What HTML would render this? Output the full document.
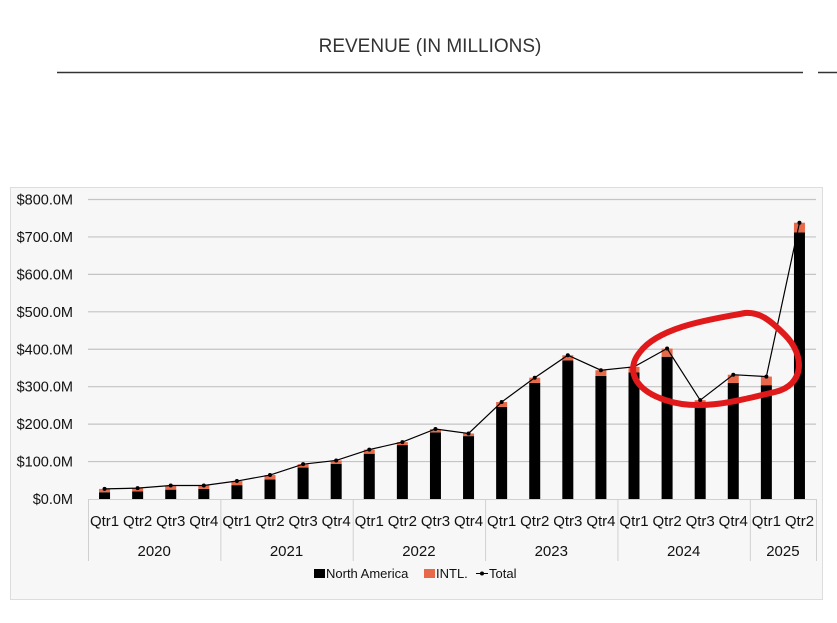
<!DOCTYPE html>
<html><head><meta charset="utf-8"><style>
body{margin:0;background:#fff;width:837px;height:618px;overflow:hidden;font-family:"Liberation Sans",sans-serif}
</style></head><body>
<svg width="837" height="618" viewBox="0 0 837 618">
<text x="430" y="52" text-anchor="middle" font-size="19" fill="#333">REVENUE (IN MILLIONS)</text>
<line x1="57" y1="72.5" x2="803" y2="72.5" stroke="#333" stroke-width="1.5"/>
<line x1="818" y1="72.5" x2="837" y2="72.5" stroke="#333" stroke-width="1.5"/>
<rect x="10.5" y="187.5" width="812" height="412" fill="#f7f7f7" stroke="#ddd"/>
<g id="grid"></g><g id="bars"></g><g id="line"></g><g id="axes"></g>
<g font-size="13" fill="#111">
<rect x="314" y="569" width="11" height="9" fill="#000"/>
<text x="326" y="578">North America</text>
<rect x="424" y="569" width="11" height="9" fill="#e8694a"/>
<text x="436" y="578">INTL.</text>
<line x1="476" y1="573.5" x2="488" y2="573.5" stroke="#000"/>
<circle cx="482" cy="573.5" r="2" fill="#000"/>
<text x="489" y="578">Total</text>
</g>
<path d="M640,352 C660,325 720,318 745,313 C760,312 770,320 785,335 C805,355 805,385 775,392 C740,400 700,412 665,400 C635,390 625,370 640,352 Z" fill="none" stroke="#e0191b" stroke-width="6"/>
</svg>
<script>
const quarters=["Qtr1","Qtr2","Qtr3","Qtr4","Qtr1","Qtr2","Qtr3","Qtr4","Qtr1","Qtr2","Qtr3","Qtr4","Qtr1","Qtr2","Qtr3","Qtr4","Qtr1","Qtr2","Qtr3","Qtr4","Qtr1","Qtr2"];
const years=["2020","2021","2022","2023","2024","2025"];
const yearCounts=[4,4,4,4,4,2];
const northAmerica=[18,20,25,27,37,52,84,94,121,144,178,168,246,310,370,329,338,380,249,310,304,712];
const totals=[27,29,36,36,48,64,93,103,132,152,187,175,259,324,384,344,353,402,264,332,327,738];
const yTicks=[0,100,200,300,400,500,600,700,800];
const NS="http://www.w3.org/2000/svg";
const X0=88,X1=816,Y0=499,YT=199.5,YMAX=800;
const bw=(X1-X0)/quarters.length;
const y=v=>Y0-(v/YMAX)*(Y0-YT);
const xc=i=>X0+bw*(i+0.5);
function mk(tag,attrs,parent,txt){const e=document.createElementNS(NS,tag);for(const k in attrs)e.setAttribute(k,attrs[k]);if(txt!==undefined)e.textContent=txt;document.getElementById(parent).appendChild(e);return e;}
yTicks.forEach(t=>{
 if(t>0){const l=mk("line",{x1:X0,x2:X1,y1:y(t),y2:y(t),stroke:"#c4c4c4","stroke-width":1.2},"grid");
 
 }
 const tx=mk("text",{x:73,y:y(t)+5,"text-anchor":"end","font-size":14.5,fill:"#111"},"axes","$"+t.toFixed(1)+"M");
 
 
});
const ax=mk("line",{x1:X0,x2:X1,y1:Y0+0.5,y2:Y0+0.5,stroke:"#d0d0d0"},"axes");


quarters.forEach((q,i)=>{
 const na=mk("rect",{x:xc(i)-5.5,width:11,y:y(northAmerica[i]),height:Y0-y(northAmerica[i]),fill:"#000"},"bars");
 
 
 const it=mk("rect",{x:xc(i)-5.5,width:11,y:y(totals[i]),height:y(northAmerica[i])-y(totals[i]),fill:"#e8694a"},"bars");
 
 
 const t=mk("text",{x:xc(i),y:526,"text-anchor":"middle","font-size":15,fill:"#111"},"axes",q);
 
 
});
const pts=totals.map((v,i)=>xc(i)+","+y(v)).join(" ");
const pl=mk("polyline",{points:pts,fill:"none",stroke:"#000","stroke-width":1.2},"line");


totals.forEach((v,i)=>{const c=mk("circle",{cx:xc(i),cy:y(v),r:2,fill:"#000"},"line");
 
 });
let s=0;
const sep0=mk("line",{x1:X0+0.5,x2:X0+0.5,y1:Y0,y2:561,stroke:"#d0d0d0"},"axes");


years.forEach((yr,j)=>{
 const a=X0+s*bw,b=X0+(s+yearCounts[j])*bw;s+=yearCounts[j];
 const sep=mk("line",{x1:b+0.5,x2:b+0.5,y1:Y0,y2:561,stroke:"#d0d0d0"},"axes");
 
 
 const t=mk("text",{x:(a+b)/2,y:556,"text-anchor":"middle","font-size":15,fill:"#111"},"axes",yr);
 
 
});
</script>
</body></html>
